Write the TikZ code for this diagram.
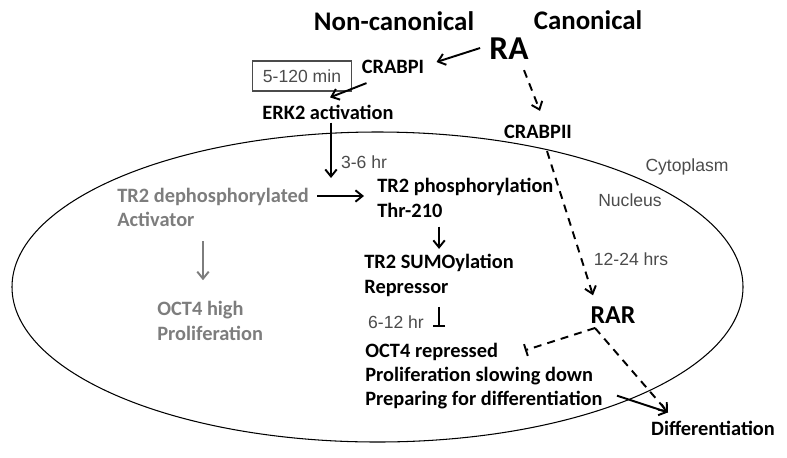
\documentclass[tikz,border=0pt]{standalone}
\usepackage{fontspec}
\setmainfont{Carlito}
\newfontfamily\arialfont{Liberation Sans}
\usetikzlibrary{arrows.meta,calc}
\definecolor{fadedgrey}{RGB}{125,125,125}
\definecolor{timegrey}{RGB}{75,75,75}
\tikzset{
  bio/.style={font=\bfseries\fontsize{11.6}{13.9}\selectfont, inner sep=0pt, align=left},
  tlabel/.style={font=\arialfont\fontsize{10}{12}\selectfont, text=timegrey, inner sep=0pt},
  act/.style={line width=1.1pt, -{Straight Barb[length=4pt,width=6.5pt]}},
  inh/.style={line width=1.1pt, -{Bar[width=7pt]}},
  dashact/.style={act, dash pattern=on 4.5pt off 3.5pt},
  dashinh/.style={inh, dash pattern=on 4.5pt off 3.5pt},
}
\begin{document}
\begin{tikzpicture}[x=0.02cm,y=-0.02cm]
\useasboundingbox (0,0) rectangle (787,457);
\draw[line width=0.6pt] (377.5,287) ellipse [x radius=365.5, y radius=155];
\node[bio, font=\bfseries\fontsize{15.3}{18}\selectfont] (noncan) at (394,21){Non-canonical};
\node[bio, font=\bfseries\fontsize{15.3}{18}\selectfont] (can) at (588,20){Canonical};
\node[bio, font=\bfseries\fontsize{19}{22}\selectfont] (ra) at (509,49){RA};
\node[bio] (crabpi) at (393,67){CRABPI};
\node[draw=timegrey, line width=0.6pt, font=\arialfont\fontsize{10}{12}\selectfont, text=timegrey, minimum width=1.98cm, minimum height=0.6cm, inner sep=0pt] (tbox) at (302,76){5-120 min};
\node[bio] (erk) at (328,112){ERK2 activation};
\node[bio] (crabpii) at (538,132){CRABPII};
\node[tlabel] (t36) at (364,162){3-6 hr};
\node[tlabel] (cyto) at (687,167){Cytoplasm};
\node[tlabel] (nucl) at (630,200){Nucleus};
\node[bio, text=fadedgrey, anchor=west] (tr2dephos) at (117,207.5){TR2 dephosphorylated\\Activator};
\node[bio, anchor=west] (tr2phos) at (377,198){TR2 phosphorylation\\Thr-210};
\node[bio, anchor=west] (sumo) at (364,275.5){TR2 SUMOylation\\Repressor};
\node[tlabel] (t1224) at (631,259){12-24 hrs};
\node[bio, text=fadedgrey, anchor=west] (oct4high) at (157,321){OCT4 high\\Proliferation};
\node[bio, font=\bfseries\fontsize{14.7}{17}\selectfont] (rar) at (613,315){RAR};
\node[tlabel] (t612) at (396,322){6-12 hr};
\node[bio, anchor=west] (oct4rep) at (365,376){OCT4 repressed\\Proliferation slowing down\\Preparing for differentiation};
\node[bio] (diff) at (713,428){Differentiation};
\coordinate (kinase) at (331,178);
\coordinate (rarfork) at (595,328);
% non-canonical branch
\draw[act] ($(ra.west)+(-9,-1)$) -- ($(crabpi.east)+(12,-5)$);
\draw[act] ($(crabpi.south west)+(5,9)$) -- ($(erk.north)+(2,-7)$);
\draw[act] ($(erk.south)+(3,3)$) -- (kinase);
\draw[act] ($(tr2dephos.east)+(8,-11.5)$) -- ($(tr2phos.west)+(-13,-2)$);
\draw[act, fadedgrey] ($(tr2dephos.south west)+(86,14)$) -- ($(oct4high.north west)+(46,-21)$);
\draw[act, shorten <=5pt, shorten >=3pt] (tr2phos.south -| sumo.north) -- (sumo.north);
\draw[inh, shorten <=0.2cm, shorten >=0.3cm] (sumo.south) -- (oct4rep.north -| sumo.south);
% canonical branch
\draw[dashact] ($(ra.south)+(15,10)$) -- ($(crabpii.north)+(2,-14)$);
\draw[dashact] ($(crabpii.south)+(9,12)$) -- ($(rar.north)+(-20,-11)$);
\draw[dashinh] (rarfork) -- ($(oct4rep.north west)+(160,8)$);
\draw[dashact] (rarfork) -- ($(diff.north)+(-45,-8)$);
\draw[act] ($(oct4rep.south east)+(14,-14)$) -- ($(diff.north)+(-45,-8)$);
\end{tikzpicture}
\end{document}
